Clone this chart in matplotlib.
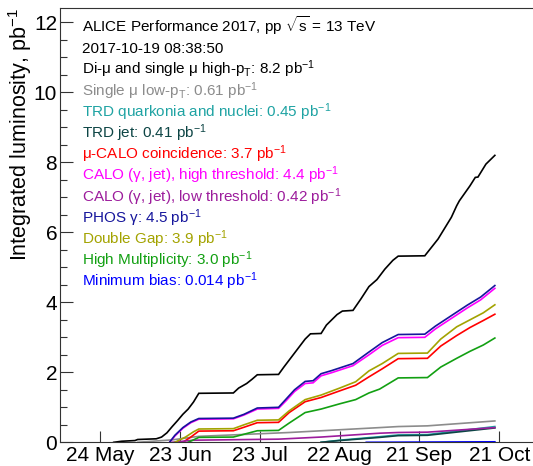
import pandas as pd
import matplotlib.pyplot as plt

plt.rcParams['font.family'] = ['Liberation Sans', 'DejaVu Sans']
plt.rcParams['mathtext.fontset'] = 'custom'
plt.rcParams['mathtext.rm'] = 'Liberation Sans'
plt.rcParams['mathtext.it'] = 'Liberation Sans:italic'
plt.rcParams['mathtext.bf'] = 'Liberation Sans:bold'

# luminosidade integrada por trigger (pb^-1)
dimu_dates = ['2017-05-29', '2017-06-01', '2017-06-06', '2017-06-07', '2017-06-14', '2017-06-16',
              '2017-06-18', '2017-06-20', '2017-06-22', '2017-06-24', '2017-06-26', '2017-06-28',
              '2017-06-30', '2017-07-13', '2017-07-15', '2017-07-18', '2017-07-20', '2017-07-22',
              '2017-07-30', '2017-08-01', '2017-08-03', '2017-08-05', '2017-08-07', '2017-08-09',
              '2017-08-11', '2017-08-15', '2017-08-17', '2017-08-19', '2017-08-21', '2017-08-23',
              '2017-08-27', '2017-08-30', '2017-09-02', '2017-09-05', '2017-09-08', '2017-09-11',
              '2017-09-13', '2017-09-23', '2017-09-28', '2017-10-03', '2017-10-05', '2017-10-06',
              '2017-10-10', '2017-10-12', '2017-10-13', '2017-10-16', '2017-10-19 08:38']
dimu_lumi = [0.0, 0.03, 0.05, 0.08, 0.10, 0.15,
             0.27, 0.45, 0.62, 0.80, 0.95, 1.15,
             1.40, 1.41, 1.55, 1.68, 1.80, 1.93,
             1.94, 2.15, 2.35, 2.55, 2.75, 2.95,
             3.10, 3.11, 3.35, 3.50, 3.65, 3.75,
             3.77, 4.10, 4.45, 4.65, 4.95, 5.20,
             5.32, 5.33, 5.81, 6.43, 6.76, 6.90,
             7.33, 7.57, 7.58, 7.95, 8.20]

phos_dates = ['2017-06-19', '2017-06-21', '2017-06-24', '2017-06-27', '2017-06-30', '2017-07-13',
              '2017-07-17', '2017-07-22', '2017-07-30', '2017-08-02', '2017-08-05', '2017-08-09',
              '2017-08-12', '2017-08-15', '2017-08-19', '2017-08-23', '2017-08-27', '2017-09-02',
              '2017-09-07', '2017-09-13', '2017-09-23', '2017-09-27', '2017-10-01', '2017-10-05',
              '2017-10-09', '2017-10-14', '2017-10-19 08:38']
phos_lumi = [0.0, 0.20, 0.42, 0.58, 0.68, 0.69,
             0.80, 0.98, 1.00, 1.25, 1.50, 1.74,
             1.76, 1.96, 2.05, 2.15, 2.25, 2.58,
             2.85, 3.08, 3.09, 3.32, 3.52, 3.72,
             3.92, 4.15, 4.48]

calo_hi_dates = phos_dates
calo_hi_lumi = [0.0, 0.18, 0.40, 0.56, 0.66, 0.67,
                0.78, 0.95, 0.97, 1.20, 1.45, 1.68,
                1.70, 1.90, 1.99, 2.09, 2.19, 2.50,
                2.77, 2.99, 3.00, 3.24, 3.44, 3.64,
                3.84, 4.07, 4.40]

dgap_dates = ['2017-06-21', '2017-06-25', '2017-06-28', '2017-06-30', '2017-07-13', '2017-07-17',
              '2017-07-22', '2017-07-30', '2017-08-03', '2017-08-09', '2017-08-15', '2017-08-22',
              '2017-08-28', '2017-09-02', '2017-09-07', '2017-09-13', '2017-09-24', '2017-09-29',
              '2017-10-05', '2017-10-10', '2017-10-15', '2017-10-19 08:38']
dgap_lumi = [0.0, 0.15, 0.30, 0.38, 0.39, 0.50,
             0.63, 0.64, 0.90, 1.22, 1.35, 1.55,
             1.73, 2.04, 2.25, 2.54, 2.55, 2.95,
             3.30, 3.50, 3.70, 3.93]

mucalo_dates = ['2017-06-24', '2017-06-27', '2017-06-30', '2017-07-13', '2017-07-17', '2017-07-22',
                '2017-07-30', '2017-08-03', '2017-08-09', '2017-08-15', '2017-08-22', '2017-08-28',
                '2017-09-02', '2017-09-07', '2017-09-13', '2017-09-24', '2017-09-29', '2017-10-05',
                '2017-10-10', '2017-10-15', '2017-10-19 08:38']
mucalo_lumi = [0.0, 0.15, 0.32, 0.33, 0.43, 0.56,
               0.57, 0.85, 1.16, 1.28, 1.47, 1.63,
               1.87, 2.10, 2.39, 2.40, 2.75, 3.05,
               3.28, 3.48, 3.66]

hm_dates = ['2017-06-26', '2017-06-30', '2017-07-13', '2017-07-22', '2017-07-30', '2017-08-03',
            '2017-08-09', '2017-08-15', '2017-08-22', '2017-08-28', '2017-09-02', '2017-09-06',
            '2017-09-13', '2017-09-24', '2017-09-29', '2017-10-05', '2017-10-10', '2017-10-15',
            '2017-10-19 08:38']
hm_lumi = [0.0, 0.14, 0.15, 0.33, 0.34, 0.55,
           0.85, 0.95, 1.10, 1.22, 1.41, 1.52,
           1.84, 1.85, 2.15, 2.40, 2.60, 2.78,
           2.98]

mulow_dates = ['2017-06-07', '2017-06-20', '2017-06-30', '2017-08-03', '2017-09-06', '2017-09-13',
               '2017-09-24', '2017-10-19 08:38']
mulow_lumi = [0.0, 0.07, 0.17, 0.28, 0.42, 0.45, 0.47, 0.61]

calo_lo_dates = ['2017-06-20', '2017-06-28', '2017-07-30', '2017-08-15', '2017-09-06', '2017-09-13',
                 '2017-09-24', '2017-10-19 08:38']
calo_lo_lumi = [0.0, 0.06, 0.09, 0.15, 0.26, 0.28, 0.29, 0.42]

trdq_dates = ['2017-08-15', '2017-08-22', '2017-09-06', '2017-09-13', '2017-09-24', '2017-10-19 08:38']
trdq_lumi = [0.0, 0.06, 0.16, 0.21, 0.22, 0.45]

trdjet_dates = trdq_dates
trdjet_lumi = [0.0, 0.05, 0.14, 0.19, 0.20, 0.41]

mb_dates = ['2017-09-01', '2017-10-19 08:38']
mb_lumi = [0.0, 0.014]

tick_dates = ['2017-05-24', '2017-06-23', '2017-07-23', '2017-08-22', '2017-09-21', '2017-10-21']
tick_labels = ['24 May', '23 Jun', '23 Jul', '22 Aug', '21 Sep', '21 Oct']

header = ['ALICE Performance 2017, pp $\\sqrt{\\mathrm{s}}$ = 13 TeV', '2017-10-19 08:38:50']

# (rotulo, cor, datas, valores) na ordem da legenda
series = [
    ('Di-μ and single μ high-p$_\\mathrm{T}$: 8.2 pb$^{-1}$', '#000000', dimu_dates, dimu_lumi),
    ('Single μ low-p$_\\mathrm{T}$: 0.61 pb$^{-1}$', '#8c8c8c', mulow_dates, mulow_lumi),
    ('TRD quarkonia and nuclei: 0.45 pb$^{-1}$', '#1fa3a3', trdq_dates, trdq_lumi),
    ('TRD jet: 0.41 pb$^{-1}$', '#0d4545', trdjet_dates, trdjet_lumi),
    ('μ-CALO coincidence: 3.7 pb$^{-1}$', '#ff0000', mucalo_dates, mucalo_lumi),
    ('CALO (γ, jet), high threshold: 4.4 pb$^{-1}$', '#ff00ff', calo_hi_dates, calo_hi_lumi),
    ('CALO (γ, jet), low threshold: 0.42 pb$^{-1}$', '#9c1c9c', calo_lo_dates, calo_lo_lumi),
    ('PHOS γ: 4.5 pb$^{-1}$', '#16169c', phos_dates, phos_lumi),
    ('Double Gap: 3.9 pb$^{-1}$', '#a3a300', dgap_dates, dgap_lumi),
    ('High Multiplicity: 3.0 pb$^{-1}$', '#12a012', hm_dates, hm_lumi),
    ('Minimum bias: 0.014 pb$^{-1}$', '#0000ff', mb_dates, mb_lumi),
]

W, H = 533, 466
fig = plt.figure(figsize=(W / 100, H / 100), dpi=100)
ax = fig.add_axes([60 / W, (H - 442.3) / H, (W - 60) / W, (442.3 - 7.7) / H])

for label, cor, datas, valores in series:
    ax.plot(pd.to_datetime(datas, format='ISO8601'), valores, color=cor, lw=1.2,
            solid_joinstyle='miter')

ax.set_xlim(pd.Timestamp('2017-05-08 19:00'), pd.Timestamp('2017-11-02 17:00'))
ax.set_ylim(0, 12.42)

ax.set_xticks(pd.to_datetime(tick_dates))
ax.set_xticklabels(tick_labels)
ax.set_yticks(range(0, 13, 2))
ax.set_yticks([v / 2 for v in range(0, 25)], minor=True)
ax.tick_params(axis='both', which='major', direction='in', labelsize=15, width=0.8, color='#333333')
ax.tick_params(axis='y', which='major', length=9.5, pad=2)
ax.tick_params(axis='y', which='minor', direction='in', length=5, width=0.8, color='#333333')
ax.tick_params(axis='x', which='major', length=8, pad=3)
ax.spines['right'].set_visible(False)
for s in ['left', 'bottom', 'top']:
    ax.spines[s].set_linewidth(0.8)
    ax.spines[s].set_color('#333333')

fig.text(20 / W, 1 - 7.7 / H, 'Integrated luminosity, pb$^{-1}$', rotation=90,
         ha='center', va='top', fontsize=15.5)

x_txt = 82 / W
linhas = header + [s[0] for s in series]
cores = ['#000000', '#000000'] + [s[1] for s in series]
for i, (txt, cor) in enumerate(zip(linhas, cores)):
    y_base = 32 + 21.2 * i
    fig.text(x_txt, 1 - y_base / H, txt, color=cor, fontsize=11, va='baseline', ha='left')

fig.savefig('out.png', dpi=100)
